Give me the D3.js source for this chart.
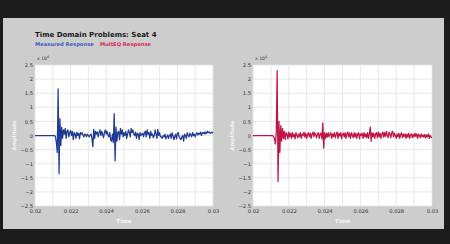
<!DOCTYPE html>
<html>
<head>
<meta charset="utf-8">
<script src="https://cdn.jsdelivr.net/npm/d3@7"></script>
<style>
  html, body { margin: 0; padding: 0; background: #1c1c1c; }
  svg { display: block; font-family: "DejaVu Sans", Verdana, sans-serif; }
</style>
</head>
<body>
<div id="chart"></div>
<script>
// Time domain chart - measured vs MultEQ response (amplitude x 10^4)

const title = "Time Domain Problems: Seat 4";
const seriesNames = ["Measured Response", "MultEQ Response"];

// Ticks
const timeTicks = [0.02, 0.022, 0.024, 0.026, 0.028, 0.03];
const ampTicks = [2.5, 2, 1.5, 1, 0.5, 0, -0.5, -1, -1.5, -2, -2.5];

// Sample clock: flat at 0 from 0.02, then samples every 0.00005 s from 0.0211
const leadTime = 0.02;
const sampleStart = 0.0211;
const sampleStep = 0.00005;

// Measured response (x 10^4)
const measuredAmp = [
  0, -0.05, -0.25, -0.6, 1.65, -1.35, 0.6, -0.35, 0.3, -0.1,
  0.2, 0.05, 0.25, -0.1, 0.15, 0.2, -0.05, 0.1, 0.18, 0.0,
  0.15, -0.15, 0.1, 0.05, -0.1, 0.12, 0.0, 0.08, -0.12, 0.1,
  0.05, 0.1, 0.0, -0.05, 0.06, 0.02, -0.04, 0.05, 0.0, -0.05,
  0.02, 0.05, -0.1, -0.4, 0.22, -0.1, 0.15, 0.05, 0.12, -0.05,
  0.1, 0.2, 0.0, 0.15, 0.05, -0.08, 0.1, 0.2, 0.05, 0.15,
  0.02, -0.05, 0.1, -0.15, -0.2, 0.05, -0.25, 0.78, -0.9, 0.3,
  -0.2, 0.1, 0.15, -0.15, 0.25, 0.05, 0.2, -0.05, 0.1, 0.0,
  0.15, -0.1, 0.05, 0.2, 0.1, -0.05, 0.25, 0.1, 0.2, 0.05,
  0.0, 0.12, -0.1, 0.08, 0.05, -0.15, 0.1, 0.0, 0.05, 0.08,
  -0.05, 0.1, 0.15, -0.05, 0.2, 0.05, 0.1, -0.1, 0.15, 0.0,
  0.05, -0.08, 0.0, 0.2, 0.05, -0.1, 0.22, 0.0, 0.1, -0.05,
  -0.05, -0.1, 0.0, -0.05, 0.05, -0.12, -0.05, 0.02, -0.1, 0.0,
  0.05, -0.1, 0.1, 0.0, -0.15, -0.05, 0.05, -0.12, 0.08, 0.1,
  -0.05, -0.1, -0.15, -0.05, 0.0, -0.2, 0.05, 0.0, -0.1, 0.1,
  0.0, -0.05, 0.08, 0.02, -0.05, 0.1, 0.0, 0.05, -0.05, 0.05,
  0.1, 0.02, 0.08, 0.05, 0.12, 0.0, 0.1, 0.08, 0.12, 0.05,
  0.12, 0.08, 0.15, 0.1, 0.12, 0.08, 0.1, 0.12, 0.08
];

// MultEQ response (x 10^4)
const multeqAmp = [
  0, -0.05, -0.1, -0.3, 0.1, 2.3, -1.63, 0.5, -0.6, 0.35,
  -0.2, 0.25, -0.1, 0.15, -0.15, 0.1, 0.05, -0.12, 0.12, -0.05,
  0.08, -0.1, 0.1, -0.05, 0.05, -0.12, 0.1, 0.0, -0.08, 0.06,
  -0.05, 0.1, -0.1, 0.05, 0.0, 0.12, -0.06, 0.08, -0.1, 0.04,
  0.1, -0.05, 0.08, -0.1, 0.05, 0.12, -0.04, 0.1, 0.02, -0.08,
  0.06, 0.1, -0.1, 0.05, 0.08, -0.12, 0.45, -0.45, 0.1, -0.1,
  0.08, -0.06, 0.1, -0.05, 0.04, 0.1, -0.1, 0.06, -0.04, 0.1,
  -0.08, 0.05, 0.12, -0.1, 0.08, -0.02, 0.1, -0.12, 0.05, 0.08,
  -0.06, 0.1, -0.1, 0.06, 0.12, -0.05, 0.08, -0.1, 0.1, 0.02,
  -0.08, 0.1, -0.06, 0.08, -0.1, 0.05, 0.1, -0.12, 0.06, 0.0,
  0.08, -0.1, 0.1, -0.05, 0.06, -0.08, 0.1, -0.1, 0.05, 0.3,
  -0.2, 0.1, -0.05, 0.08, -0.1, 0.06, 0.1, -0.08, 0.12, -0.05,
  0.08, -0.1, 0.05, 0.12, -0.06, 0.1, -0.04, 0.15, 0.02, -0.08,
  0.12, 0.05, -0.08, 0.1, 0.15, -0.05, 0.08, 0.0, -0.1, 0.06,
  -0.05, 0.08, -0.1, 0.04, 0.1, -0.08, 0.05, -0.04, 0.06, -0.1,
  0.05, -0.06, 0.08, -0.1, 0.02, 0.06, -0.08, 0.04, -0.05, 0.08,
  -0.04, 0.06, -0.1, 0.05, 0.0, -0.08, 0.06, -0.04, 0.02, -0.06,
  0.04, -0.08, 0.02, -0.05, 0.06, -0.1, 0.0, -0.06, -0.08
];

const W = 450, H = 244;

const svg = d3.select("#chart").append("svg")
  .attr("width", W)
  .attr("height", H);

// dark surround + gray panel
svg.append("rect").attr("width", W).attr("height", H).attr("fill", "#1c1c1c");
svg.append("rect")
  .attr("x", 3).attr("y", 18).attr("width", 441).attr("height", 211)
  .attr("fill", "#cdcdcd");

// title + legend
svg.append("text")
  .attr("x", 35).attr("y", 37)
  .attr("font-size", 7).attr("font-weight", "bold").attr("fill", "#1a1a1a")
  .text(title);

svg.append("text")
  .attr("x", 35).attr("y", 45.5)
  .attr("font-size", 5.2).attr("font-weight", "bold").attr("fill", "#3a5cc0")
  .text(seriesNames[0]);

svg.append("text")
  .attr("x", 100).attr("y", 45.5)
  .attr("font-size", 5.2).attr("font-weight", "bold").attr("fill", "#d8285a")
  .text(seriesNames[1]);

function toPoints(vals) {
  let pts = [{ t: leadTime, v: 0 }];
  vals.forEach(function (v, i) {
    pts.push({ t: sampleStart + i * sampleStep, v: v });
  });
  return pts;
}

function drawPanel(left, right, vals, color) {
  let top = 65, bottom = 206;

  let x = d3.scaleLinear().domain([0.02, 0.03]).range([left, right]);
  let y = d3.scaleLinear().domain([-2.5, 2.5]).range([bottom, top]);

  let g = svg.append("g");

  g.append("rect")
    .attr("x", left).attr("y", top)
    .attr("width", right - left).attr("height", bottom - top)
    .attr("fill", "#ffffff");

  // grid
  g.selectAll("line.vg")
    .data(d3.range(0.02, 0.03001, 0.001))
    .enter().append("line")
    .attr("x1", function (d) { return x(d); })
    .attr("x2", function (d) { return x(d); })
    .attr("y1", top).attr("y2", bottom)
    .attr("stroke", "#e2e2e2").attr("stroke-width", 0.8);

  g.selectAll("line.hg")
    .data(ampTicks)
    .enter().append("line")
    .attr("x1", left).attr("x2", right)
    .attr("y1", function (d) { return y(d); })
    .attr("y2", function (d) { return y(d); })
    .attr("stroke", "#e2e2e2").attr("stroke-width", 0.8);

  // axes (labels only)
  let yAxis = g.append("g")
    .attr("transform", "translate(" + left + ",0)")
    .call(d3.axisLeft(y).tickValues(ampTicks).tickSize(0).tickPadding(2)
      .tickFormat(function (d) { return d3.format("")(d); }));
  yAxis.select(".domain").remove();
  yAxis.selectAll("text").attr("font-size", 5.2).attr("fill", "#333")
    .attr("font-family", "DejaVu Sans, sans-serif");

  let xAxis = g.append("g")
    .attr("transform", "translate(0," + bottom + ")")
    .call(d3.axisBottom(x).tickValues(timeTicks).tickSize(0).tickPadding(3)
      .tickFormat(function (d) { return d3.format("")(+d.toFixed(3)); }));
  xAxis.select(".domain").remove();
  xAxis.selectAll("text").attr("font-size", 5.2).attr("fill", "#333")
    .attr("font-family", "DejaVu Sans, sans-serif");

  // x 10^4 label
  let ex = g.append("text")
    .attr("x", left + 2).attr("y", 60)
    .attr("font-size", 4.6).attr("fill", "#333");
  ex.append("tspan").text("x 10");
  ex.append("tspan").attr("dy", -2).attr("font-size", 3.4).text("4");

  // axis titles (white)
  g.append("text")
    .attr("transform", "translate(" + (left - 19) + "," + y(0) + ") rotate(-90)")
    .attr("text-anchor", "middle")
    .attr("font-size", 5.2).attr("font-weight", "bold").attr("fill", "#f4f4f4")
    .text("Amplitude");

  g.append("text")
    .attr("x", (left + right) / 2).attr("y", 223)
    .attr("text-anchor", "middle")
    .attr("font-size", 5.6).attr("font-weight", "bold").attr("fill", "#f4f4f4")
    .text("Time");

  // signal
  let line = d3.line()
    .x(function (d) { return x(d.t); })
    .y(function (d) { return y(d.v); });

  g.append("path")
    .datum(toPoints(vals))
    .attr("d", line)
    .attr("fill", "none")
    .attr("stroke", color)
    .attr("stroke-width", 1.25)
    .attr("stroke-linejoin", "round");
}

drawPanel(35, 213, measuredAmp, "#1f3a94");
drawPanel(253, 432, multeqAmp, "#c21444");
</script>
</body>
</html>
